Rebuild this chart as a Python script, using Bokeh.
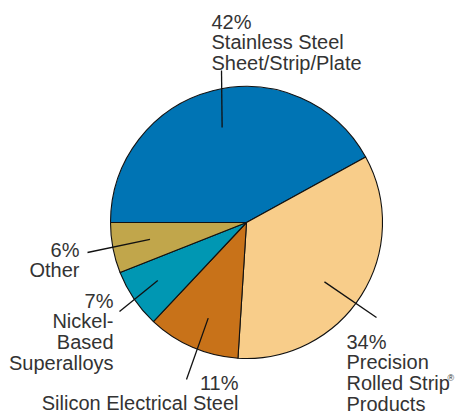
import numpy as np
from bokeh.plotting import figure
from bokeh.models import Range1d, ColumnDataSource
from bokeh.core.properties import value
from bokeh.embed import file_html
from bokeh.resources import INLINE

# ---- data ----
categories = ["Stainless Steel Sheet/Strip/Plate", "Precision Rolled Strip® Products",
              "Silicon Electrical Steel", "Nickel-Based Superalloys", "Other"]
shares = [42, 34, 11, 7, 6]
pct_labels = ["42%", "34%", "11%", "7%", "6%"]
label_lines = [["Stainless Steel", "Sheet/Strip/Plate"],
               ["Precision", "Rolled Strip", "Products"],
               ["Silicon Electrical Steel"],
               ["Nickel-", "Based", "Superalloys"],
               ["Other"]]
colors = ["#0074b4", "#f8cd8a", "#c87219", "#0097b3", "#c1a64b"]

# ---- layout (page pixels -> data units, 1 unit = 1 px) ----
W, H = 456, 414
def px(x): return x
def py(y): return H - y

cx, cy, R = px(246), py(222), 136
# label anchor (page x, first baseline y, align), outer end of leader line
label_anchor = [(211, 21, "left"), (346, 341, "left"), (238, 382, "right"),
                (113, 300, "right"), (79, 249, "right")]
leader_outer = [(221, 70), (376, 317), (186, 379), (119, 311), (87, 252)]
leader_r = [98, 98, 103, 106, 98]
leader_frac = [0.5, 0.54, 0.46, 0.54, 0.54]   # position of the leader inside its slice
line_h = 20.7
font = value("Liberation Sans")
fsize = "20px"
tcolor = "#333333"

p = figure(width=W, height=H, output_backend="svg", toolbar_location=None,
           x_range=Range1d(0, W), y_range=Range1d(0, H),
           x_axis_type=None, y_axis_type=None, min_border=0)
p.grid.visible = False
p.outline_line_color = None
p.background_fill_color = "white"
p.border_fill_color = "white"

vals = np.array(shares, dtype=float)
frac = vals / vals.sum()
cum = np.concatenate([[0], np.cumsum(frac)])
start = np.pi - cum[:-1] * 2 * np.pi
end = np.pi - cum[1:] * 2 * np.pi

src = ColumnDataSource(dict(start=start, end=end, color=colors))
p.wedge(x=cx, y=cy, radius=R, start_angle="start", end_angle="end",
        direction="clock", fill_color="color", line_color="#111111",
        line_width=1.1, source=src)

# leader lines
xs, ys = [], []
for i in range(len(shares)):
    a = start[i] + leader_frac[i] * (end[i] - start[i])
    ix = cx + leader_r[i] * np.cos(a)
    iy = cy + leader_r[i] * np.sin(a)
    ox, oy = leader_outer[i]
    xs.append([ix, px(ox)])
    ys.append([iy, py(oy)])
p.multi_line(xs=xs, ys=ys, line_color="#111111", line_width=1.3)

# labels
for align in ["left", "right"]:
    tx, ty, tt = [], [], []
    for i in range(len(shares)):
        ax, ay, al = label_anchor[i]
        if al != align:
            continue
        lines = [pct_labels[i]] + label_lines[i]
        for k, t in enumerate(lines):
            tx.append(px(ax))
            ty.append(py(ay + k * line_h))
            tt.append(t)
    p.text(x=tx, y=ty, text=tt, text_align=align, text_baseline="alphabetic",
           text_font=font, text_font_size=fsize, text_color=tcolor)

# registered mark after "Rolled Strip"
p.text(x=[px(447)], y=[py(377)], text=["®"], text_align="left",
       text_baseline="alphabetic", text_font=font, text_font_size="9px",
       text_color=tcolor)

open("out.html", "w").write(file_html(p, INLINE))
